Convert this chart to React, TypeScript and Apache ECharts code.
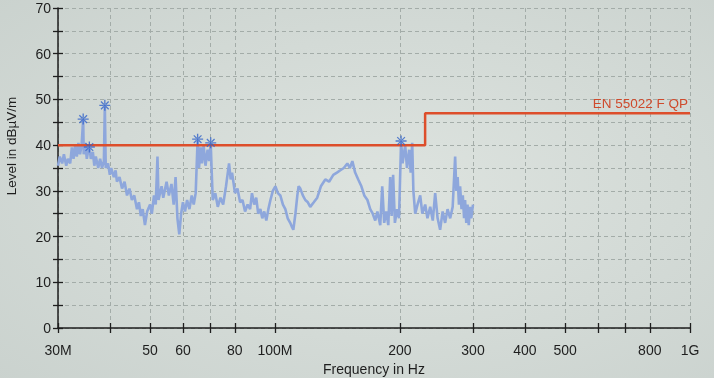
import React, { useEffect, useRef } from "react";
import * as echarts from "echarts";

// Measured trace (frequency in MHz, level in dBµV/m)
const traceFreqMHz = [
  30.0, 30.3, 30.7, 31.0, 31.4, 31.7, 32.1, 32.4, 32.7, 33.0,
  33.3, 33.6, 33.9, 34.2, 34.5, 34.6, 34.9, 35.2, 35.5, 35.7,
  36.0, 36.4, 36.7, 37.0, 37.5, 37.9, 38.3, 38.7, 38.9, 39.1,
  39.6, 40.0, 40.3, 40.9, 41.3, 41.6, 42.2, 42.8, 43.4, 44.0,
  44.6, 45.2, 45.8, 46.5, 47.0, 47.5, 48.0, 48.6, 49.2, 50.0,
  50.5, 51.1, 51.6, 52.1, 52.4, 53.3, 53.8, 54.8, 55.5, 56.3,
  57.0, 57.6, 58.2, 58.8, 59.4, 60.0, 60.7, 61.4, 62.2, 63.0,
  63.7, 64.4, 65.1, 65.6, 66.2, 66.7, 67.3, 68.0, 68.8, 69.4,
  70.0, 70.4, 70.8, 71.8, 72.8, 73.9, 75.0, 76.2, 77.5, 78.2,
  78.8, 80.1, 81.2, 82.4, 83.5, 84.7, 85.9, 87.1, 88.0, 89.1,
  90.1, 91.1, 92.2, 93.2, 94.2, 95.3, 96.4, 97.5, 98.8, 100.2,
  101.6, 103.0, 104.5, 105.9, 107.3, 108.8, 110.0, 110.7, 112.0, 113.2,
  114.0, 115.1, 116.7, 118.3, 120.0, 121.6, 124.0, 126.4, 129.0, 132.2,
  135.0, 138.2, 141.0, 143.7, 146.5, 149.4, 151.5, 153.6, 156.0, 158.7,
  161.5, 164.1, 167.0, 169.6, 172.0, 174.4, 176.5, 179.3, 181.3, 183.3,
  185.4, 187.5, 189.5, 191.0, 192.6, 194.5, 196.9, 199.0, 201.3, 203.0,
  205.9, 208.0, 210.5, 212.3, 214.1, 215.5, 217.7, 220.5, 223.8, 226.5,
  230.1, 233.0, 236.6, 240.0, 243.2, 246.5, 250.0, 253.5, 257.0, 260.5,
  264.3, 268.0, 271.7, 273.5, 275.5, 277.5, 279.3, 281.5, 283.5, 285.5,
  287.1, 289.0, 291.0, 293.0, 295.1, 297.0, 300.0,
];
const traceLevel = [
  35.5, 37.5, 36, 38, 35.5, 37, 36, 39.5, 37, 40,
  37.5, 40.5, 38, 40, 45.7, 38, 40.5, 37, 39, 39.6,
  37, 38.5, 35.5, 37.5, 35, 37, 35, 36.5, 48.7, 35,
  36, 33.5, 35, 33, 34.5, 32, 33, 30.5, 32, 29,
  30.5, 28, 29, 26, 27.5, 24.5, 26, 22.5, 25.5, 27,
  25, 29, 27, 37.5, 28, 31, 28.5, 32, 29, 31.5,
  27, 33, 24, 20.5, 25, 27.5, 25.5, 28, 26, 29,
  27, 29.5, 41.3, 35, 39.5, 36, 40, 35.5, 39, 36.5,
  40.5, 34, 28, 29.5, 26.5, 28.5, 27, 31, 36, 32.5,
  34, 29.5, 30.5, 27.5, 28, 25.5, 27, 26, 29.5, 27,
  28.5, 25, 26, 24, 25.5, 23.5, 26, 28, 30, 31,
  29.5, 29, 27, 26, 24, 23, 22, 21.5, 25, 29,
  31, 30.5, 29, 28, 27.5, 26.5, 27.5, 28.5, 31, 32.5,
  32, 33.5, 34, 34.5, 35, 36, 35, 36.5, 34, 32.5,
  31, 29, 28, 26, 25, 23.5, 25.5, 22.5, 31, 23,
  25.5, 22.5, 33, 24.5, 33.5, 23, 26, 24, 40.9, 36,
  40, 35, 39, 34, 40.5, 30, 25, 27, 29, 25,
  27, 24, 26.5, 23.5, 29.5, 24, 21.5, 25.5, 23, 26,
  24, 26.5, 37.5, 30, 33, 27, 31, 26, 29, 24,
  28, 23, 27, 22.5, 26.5, 24, 27,
];

// Limit line EN 55022 F QP
const limitName = "EN 55022 F QP";
const limitFreqMHz = [30, 230, 230, 1000];
const limitLevel = [40, 40, 47, 47];

// Peak markers
const markerFreqMHz = [34.5, 35.7, 38.9, 65.1, 70.0, 201.3];
const markerLevel = [45.7, 39.6, 48.7, 41.3, 40.5, 40.9];

// Axes
const xTickFreqMHz = [30, 40, 50, 60, 70, 80, 100, 200, 300, 400, 500, 600, 700, 800, 1000];
const xLabelFreqMHz = [30, 50, 60, 80, 100, 200, 300, 400, 500, 800, 1000];
const xLabelText = ["30M", "50", "60", "80", "100M", "200", "300", "400", "500", "800", "1G"];
const yMin = 0;
const yMax = 70;
const yTickStep = 5;
const yLabelStep = 10;
const xAxisTitle = "Frequency in Hz";
const yAxisTitle = "Level in dBµV/m";

const STAR =
  "path://M-0.6,-5L0.6,-5L0.6,5L-0.6,5Z M-5,-0.6L5,-0.6L5,0.6L-5,0.6Z M-3.9,-3.1L-3.1,-3.9L3.9,3.1L3.1,3.9Z M3.1,-3.9L3.9,-3.1L-3.1,3.9L-3.9,3.1Z M-1.4,0A1.4,1.4 0 1 0 1.4,0A1.4,1.4 0 1 0 -1.4,0Z";

const FONT = "'Liberation Sans', Arial, sans-serif";

export default function App() {
  const ref = useRef<HTMLDivElement>(null);
  useEffect(() => {
    if (!ref.current) return;
    const chart = echarts.init(ref.current, undefined, { renderer: "svg" });
    const lg = (f: number) => Math.log10(f);
    const xMin = lg(xTickFreqMHz[0]);
    const xMax = lg(xTickFreqMHz[xTickFreqMHz.length - 1]);
    const tickVals = xTickFreqMHz.map(lg);
    const labelVals = xLabelFreqMHz.map(lg);
    const labelFor = (v: number) => {
      const i = labelVals.findIndex((l) => Math.abs(l - v) < 1e-6);
      return i >= 0 ? xLabelText[i] : "";
    };
    const axisColor = "#1e1e1e";
    const gridLine = { show: true, lineStyle: { color: "#a3aca8", type: [4, 3] as any, width: 1 } };

    chart.setOption({
      animation: false,
      backgroundColor: new echarts.graphic.RadialGradient(0.55, 0.5, 0.8, [
        { offset: 0, color: "#dde3df" },
        { offset: 1, color: "#c9d1cd" },
      ]),
      textStyle: { fontFamily: FONT },
      grid: { left: 58, right: 24, top: 8, bottom: 50, containLabel: false, outerBoundsMode: "none" },
      xAxis: [
        {
          type: "value",
          min: xMin,
          max: xMax,
          position: "bottom",
          name: xAxisTitle,
          nameLocation: "middle",
          nameGap: 32,
          nameTextStyle: { fontSize: 14, color: axisColor, fontFamily: FONT },
          axisLine: { onZero: false, lineStyle: { color: axisColor, width: 1.5 } },
          axisTick: { show: true, length: 5, customValues: tickVals, lineStyle: { color: axisColor, width: 1.3 } },
          axisLabel: {
            customValues: labelVals,
            formatter: (v: number) => labelFor(v),
            fontSize: 14,
            color: axisColor,
            margin: 15,
            fontFamily: FONT,
          },
          splitLine: gridLine,
        },
        {
          type: "value",
          min: xMin,
          max: xMax,
          position: "bottom",
          axisLine: { show: false, onZero: false },
          axisTick: { show: true, inside: true, length: 5, customValues: tickVals, lineStyle: { color: axisColor, width: 1.3 } },
          axisLabel: { show: false },
          splitLine: { show: false },
        },
      ],
      yAxis: [
        {
          type: "value",
          min: yMin,
          max: yMax,
          interval: yTickStep,
          position: "left",
          name: yAxisTitle,
          nameLocation: "middle",
          nameGap: 40,
          nameTextStyle: { fontSize: 13.5, color: axisColor, fontFamily: FONT, padding: [0, 0, 0, 44] },
          axisLine: { onZero: false, lineStyle: { color: axisColor, width: 1.5 } },
          axisTick: { show: true, length: 5, lineStyle: { color: axisColor, width: 1.3 } },
          axisLabel: {
            formatter: (v: number) => (v % yLabelStep === 0 ? String(v) : ""),
            fontSize: 14,
            color: axisColor,
            margin: 7,
            fontFamily: FONT,
          },
          splitLine: gridLine,
        },
        {
          type: "value",
          min: yMin,
          max: yMax,
          interval: yTickStep,
          position: "left",
          axisLine: { show: false, onZero: false },
          axisTick: { show: true, inside: true, length: 5, lineStyle: { color: axisColor, width: 1.3 } },
          axisLabel: { show: false },
          splitLine: { show: false },
        },
      ],
      series: [
        {
          type: "line",
          name: "trace",
          data: traceFreqMHz.map((f, i) => [lg(f), traceLevel[i]]),
          showSymbol: false,
          lineStyle: { color: "#8ea7dc", width: 2.6 },
          z: 2,
        },
        {
          type: "line",
          name: limitName,
          data: limitFreqMHz.map((f, i) => [lg(f), limitLevel[i]]),
          showSymbol: false,
          lineStyle: { color: "#dd4e2b", width: 2.5 },
          z: 3,
          markPoint: {
            symbol: "circle",
            symbolSize: 0,
            data: [
              {
                coord: [lg(limitFreqMHz[limitFreqMHz.length - 1]), limitLevel[limitLevel.length - 1]],
                label: {
                  show: true,
                  formatter: limitName,
                  position: [0, 0],
                  align: "right",
                  verticalAlign: "bottom",
                  offset: [-2, -3],
                  color: "#cf4a2c",
                  fontSize: 13.5,
                  fontFamily: FONT,
                },
              },
            ],
          },
        },
        {
          type: "scatter",
          name: "peaks",
          data: markerFreqMHz.map((f, i) => [lg(f), markerLevel[i]]),
          symbol: STAR,
          symbolSize: 11,
          itemStyle: { color: "#3263c9" },
          z: 4,
        },
      ],
    });
    return () => chart.dispose();
  }, []);
  return (
    <div
      ref={ref}
      style={{ position: "fixed", left: 0, top: 0, width: 714, height: 378 }}
    />
  );
}
